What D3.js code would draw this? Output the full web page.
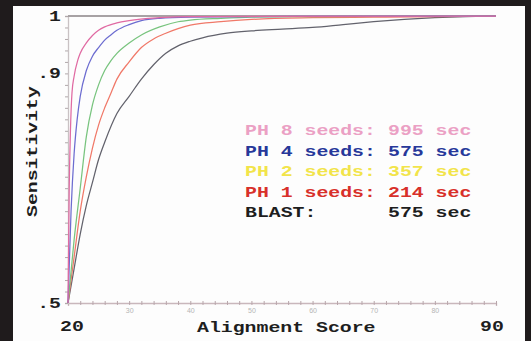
<!DOCTYPE html>
<html>
<head>
<meta charset="utf-8">
<script src="https://cdn.jsdelivr.net/npm/d3@7"></script>
<style>
  body { margin: 0; background: #1f1b1c; }
  svg { display: block; }
  .mono { font-family: "Liberation Mono", "DejaVu Sans Mono", monospace; font-weight: bold; }
</style>
</head>
<body>
<div id="graph"></div>
<script>
/* data: [alignment score, sensitivity] */
var blastData = [[20,.5],[21,.56],[22,.62],[23,.67],[24,.71],[25,.75],[26,.78],[28,.83],[30,.86],[32,.89],[34,.915],[36,.935],[38,.948],[40,.956],[42,.962],[46,.97],[50,.974],[55,.977],[60,.98],[65,.985],[70,.99],[75,.994],[80,.997],[85,.999],[90,1]];
var ph1Data = [[20,.5],[21,.58],[22,.66],[23,.72],[24,.77],[25,.81],[26,.84],[27,.865],[28,.89],[30,.92],[32,.945],[34,.96],[36,.97],[38,.978],[40,.984],[45,.99],[50,.994],[60,.997],[70,.998],[80,.999],[90,1]];
var ph2Data = [[20,.5],[21,.61],[22,.70],[23,.79],[24,.845],[25,.88],[26,.905],[27,.922],[28,.935],[30,.953],[32,.967],[35,.981],[38,.99],[40,.993],[45,.996],[50,.998],[60,.999],[90,1]];
var ph4Data = [[20,.5],[20.5,.66],[21,.76],[21.5,.82],[22,.86],[23,.905],[24,.93],[25,.945],[26,.958],[27,.967],[28,.975],[30,.985],[32,.992],[35,.996],[40,.998],[50,.999],[90,1]];
var ph8Data = [[20,.5],[20.2,.7],[20.4,.8],[20.65,.866],[21,.895],[21.6,.923],[22,.935],[23,.953],[24,.966],[25,.975],[26,.981],[28,.988],[30,.992],[35,.997],[40,.999],[90,1]];

var seriesNames = ["BLAST", "PH 1", "PH 2", "PH 4", "PH 8"];
var lineColors = ["#62626c", "#f07868", "#78c47e", "#6c6cd0", "#e06aa2"];

var legendLabels = ["PH 8 seeds:", "PH 4 seeds:", "PH 2 seeds:", "PH 1 seeds:", "BLAST:"];
var legendTimes = ["995 sec", "575 sec", "357 sec", "214 sec", "575 sec"];
var legendColors = ["#eba0c4", "#27389a", "#f2e44a", "#d8302a", "#1e1e1e"];

var yLabelValues = [1, .9, .5];
var yLabelTexts = ["1", ".9", ".5"];
var xEndValues = [20, 90];

var width = 531, height = 341;

var svg = d3.select("#graph").append("svg")
  .attr("width", width)
  .attr("height", height);

svg.append("rect").attr("width", width).attr("height", height).attr("fill", "#1f1b1c");
svg.append("rect").attr("x", 13).attr("y", 6).attr("width", 512).attr("height", 335).attr("fill", "#fdfdfd");

var x = d3.scaleLinear().domain([20, 90]).range([68, 496]);
var y = d3.scaleLinear().domain([0.5, 1]).range([303, 16]);

var charW = 11.9;
function monoText(g, s) {
  return g.text(s).attr("class", "mono")
    .attr("font-size", 15.5)
    .attr("textLength", s.length * charW)
    .attr("lengthAdjust", "spacingAndGlyphs")
    .style("white-space", "pre");
}

// x axis
var xAxis = svg.append("g")
  .attr("transform", "translate(0," + y(0.5) + ")")
  .call(d3.axisBottom(x)
    .tickValues(d3.range(20, 91, 2))
    .tickSize(3)
    .tickFormat(function(d) { return (d % 10 === 0 && d > 20 && d < 90) ? d : ""; }));
xAxis.select(".domain").attr("stroke", "#c9b7bc").attr("stroke-width", 1.3);
xAxis.selectAll(".tick line").attr("stroke", "#b8a6ab").attr("y1", -2).attr("y2", 2);
xAxis.selectAll(".tick text").attr("fill", "#b5b5b5").attr("font-size", 7).attr("y", 5);

// y axis
var yAxis = svg.append("g")
  .attr("transform", "translate(" + x(20) + ",0)")
  .call(d3.axisLeft(y)
    .tickValues(d3.range(0, 26).map(function(i) { return 0.5 + i * 0.02; }))
    .tickSize(3)
    .tickFormat(""));
yAxis.select(".domain").attr("stroke", "#c9c2c4").attr("stroke-width", 1.3);
yAxis.selectAll(".tick line").attr("stroke", "#b0a8aa");

// top line at 1
svg.append("line")
  .attr("x1", x(20)).attr("x2", x(90))
  .attr("y1", y(1)).attr("y2", y(1))
  .attr("stroke", "#a7a2a4").attr("stroke-width", 2);

// curves
var line = d3.line()
  .x(function(d) { return x(d[0]); })
  .y(function(d) { return y(d[1]); })
  .curve(d3.curveMonotoneX);

var allData = [blastData, ph1Data, ph2Data, ph4Data, ph8Data];
svg.append("g").selectAll("path")
  .data(allData)
  .enter()
  .append("path")
  .attr("d", line)
  .attr("fill", "none")
  .attr("stroke", function(d, i) { return lineColors[i]; })
  .attr("stroke-width", 1.25);

// y big labels
svg.selectAll(".ylab")
  .data(yLabelValues)
  .enter()
  .append("text")
  .attr("class", "ylab")
  .attr("x", 61)
  .attr("y", function(d) { return y(d) + 5; })
  .attr("text-anchor", "end")
  .attr("fill", "#1e1e1e")
  .each(function(d, i) { monoText(d3.select(this), yLabelTexts[i]); });

// x end labels
svg.selectAll(".xlab")
  .data(xEndValues)
  .enter()
  .append("text")
  .attr("class", "xlab")
  .attr("x", function(d, i) { return i === 0 ? 60 : 480; })
  .attr("y", 331)
  .attr("fill", "#1e1e1e")
  .each(function(d) { monoText(d3.select(this), String(d)); });

// axis titles
monoText(svg.append("text").attr("x", 197).attr("y", 332).attr("fill", "#1e1e1e"), "Alignment Score");
monoText(svg.append("text")
  .attr("transform", "translate(37,217) rotate(-90)")
  .attr("fill", "#1e1e1e"), "Sensitivity");

// legend
var leg = svg.append("g");
legendLabels.forEach(function(s, i) {
  var yy = 135 + i * 20.5;
  monoText(leg.append("text").attr("x", 245).attr("y", yy).attr("fill", legendColors[i]), s);
  monoText(leg.append("text").attr("x", 388).attr("y", yy).attr("fill", legendColors[i]), legendTimes[i]);
});
</script>
</body>
</html>
